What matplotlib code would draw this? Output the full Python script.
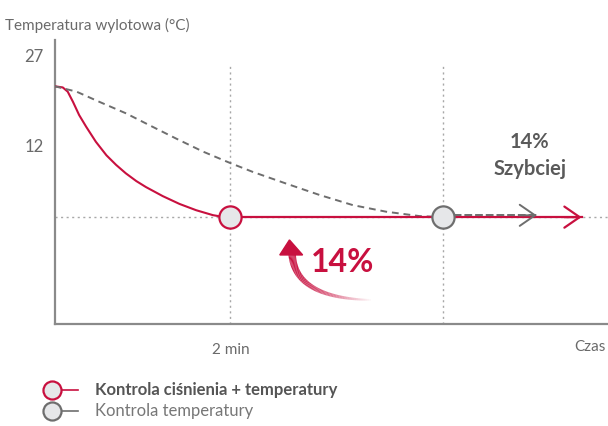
import numpy as np
import matplotlib
matplotlib.use("Agg")
import matplotlib.pyplot as plt
from matplotlib.collections import LineCollection
from matplotlib.patches import Polygon

plt.rcParams["font.family"] = ["Lato", "DejaVu Sans"]

# czas w minutach, temperatura w °C
czas_cisn = [0.0, 0.094, 0.15, 0.21, 0.28, 0.36, 0.47, 0.59, 0.70, 0.81, 0.93, 1.04, 1.23, 1.42, 1.61,
             1.80, 1.89, 2.0]
temp_cisn = [21.8, 21.6, 20.9, 19.2, 17.0, 15.05, 12.55, 10.3, 8.7, 7.3, 6.0, 5.0, 3.5, 2.2, 1.15,
             0.33, 0.1, 0.0]

czas_temp = [0.0, 0.25, 0.51, 0.81, 1.08, 1.38, 1.69, 1.99, 2.25, 2.63, 3.01, 3.39, 3.77, 4.15, 4.41]
temp_temp = [21.8, 20.9, 19.2, 17.3, 15.3, 13.1, 10.9, 9.05, 7.55, 5.6, 3.7, 2.0, 0.9, 0.17, 0.0]

czas_koniec_cisn = 5.99
czas_koniec_temp = 5.48
temp_docelowa = 0.0
yticks = [27, 12]
przyspieszenie = "14%"

czerwony = "#C8103F"
szary = "#6E6E6E"
tekst = "#6A6A6A"
wypelnienie = "#E6E7E9"

fig = plt.figure(figsize=(6.08, 4.26), dpi=100)
ax = fig.add_axes([54.5 / 608, 102 / 426, 1 - 54.5 / 608, 284 / 426])
ax.set_xlim(0, 6.29)
ax.set_ylim(-17.8, 29.5)

for s in ["top", "right"]:
    ax.spines[s].set_visible(False)
for s in ["left", "bottom"]:
    ax.spines[s].set_color("#8A8A8A")
    ax.spines[s].set_linewidth(1.6)

ax.set_yticks(yticks)
ax.set_yticklabels([str(v) for v in yticks])
ax.set_xticks([czas_cisn[-1]])
ax.set_xticklabels(["2 min"])
ax.tick_params(length=0, colors=tekst, labelsize=11)
ax.tick_params(axis="y", pad=8, labelsize=12)
ax.tick_params(axis="x", pad=14)
ax.text(6.08, -21.7, "Czas", ha="center", va="center", color=tekst, fontsize=11)

# linie pomocnicze
ax.axhline(temp_docelowa, color="#A8A8A8", lw=1, ls=(0, (1.5, 2.5)), zorder=1)
for xv in [czas_cisn[-1], czas_temp[-1]]:
    ax.plot([xv, xv], [-17.8, 25.3], color="#A8A8A8", lw=1, ls=(0, (1.5, 2.5)), zorder=1)

# krzywe
ax.plot(czas_cisn, temp_cisn, color=czerwony, lw=1.5, zorder=3, solid_joinstyle="round")
ax.plot(czas_temp, temp_temp, color=szary, lw=1.4, ls=(0, (3.5, 2.5)), zorder=3)

ax.plot([czas_cisn[-1], czas_koniec_cisn], [temp_docelowa] * 2, color=czerwony, lw=1.6, zorder=3)
ax.annotate("", xy=(czas_koniec_cisn, temp_docelowa), xytext=(czas_koniec_cisn - 0.2, temp_docelowa),
            arrowprops=dict(arrowstyle="->,head_length=0.55,head_width=0.38", color=czerwony, lw=1.6,
                            mutation_scale=20, shrinkA=0, shrinkB=0), zorder=4)
ax.plot([czas_temp[-1], czas_koniec_temp], [temp_docelowa + 0.3] * 2, color=szary, lw=1.4,
        ls=(0, (4, 1.5)), zorder=4)
ax.annotate("", xy=(czas_koniec_temp, temp_docelowa + 0.3), xytext=(czas_koniec_temp - 0.2, temp_docelowa + 0.3),
            arrowprops=dict(arrowstyle="->,head_length=0.55,head_width=0.38", color=szary, lw=1.4,
                            mutation_scale=20, shrinkA=0, shrinkB=0), zorder=4)

ax.plot(czas_cisn[-1], temp_docelowa, "o", ms=16, mfc=wypelnienie, mec=czerwony, mew=1.6, zorder=5)
ax.plot(czas_temp[-1], temp_docelowa, "o", ms=16, mfc=wypelnienie, mec=szary, mew=1.6, zorder=5)

# zakrzywiona strzałka z gradientem
t = np.linspace(0, 1, 80)
p0, p1, p2 = np.array([2.70, -6.0]), np.array([2.72, -13.6]), np.array([3.62, -13.8])
pts = ((1 - t) ** 2)[:, None] * p0 + (2 * (1 - t) * t)[:, None] * p1 + (t ** 2)[:, None] * p2
segs = np.stack([pts[:-1], pts[1:]], axis=1)
tt = np.linspace(0, 1, len(segs))
cols = [matplotlib.colors.to_rgba(czerwony, a) for a in 1 - tt ** 2.2]
lws = np.linspace(5.5, 1.2, len(segs))
ax.add_collection(LineCollection(segs, colors=cols, linewidths=lws, capstyle="butt", zorder=3))
ax.add_patch(Polygon([[2.67, -3.8], [2.56, -6.3], [2.82, -6.3]], closed=True, color=czerwony, zorder=3))

ax.text(2.91, -7.6, przyspieszenie, color=czerwony, fontsize=23, fontweight="bold", ha="left", va="center")
ax.text(5.40, 10.3, przyspieszenie + "\nSzybciej", color="#5A5A5A", fontsize=14.5, fontweight="bold",
        ha="center", va="center", linespacing=1.45)

fig.text(5 / 608, 1 - 25 / 426, "Temperatura wylotowa (°C)", color=tekst, fontsize=11, ha="left", va="center")

# legenda
lg = fig.add_axes([0, 0, 1, 1])
lg.set_xlim(0, 608)
lg.set_ylim(426, 0)
lg.axis("off")
lg.patch.set_alpha(0)
for yy, kol, opis, waga, kt in [(390, czerwony, "Kontrola ciśnienia + temperatury", "bold", "#555555"),
                                (411, szary, "Kontrola temperatury", "normal", "#777777")]:
    lg.plot([52, 78], [yy, yy], color=kol, lw=1.2)
    lg.plot(52, yy, "o", ms=13, mfc=wypelnienie, mec=kol, mew=1.6)
    lg.text(95, yy, opis, color=kt, fontsize=12, fontweight=waga, ha="left", va="center")

fig.savefig("out.png", dpi=100)
